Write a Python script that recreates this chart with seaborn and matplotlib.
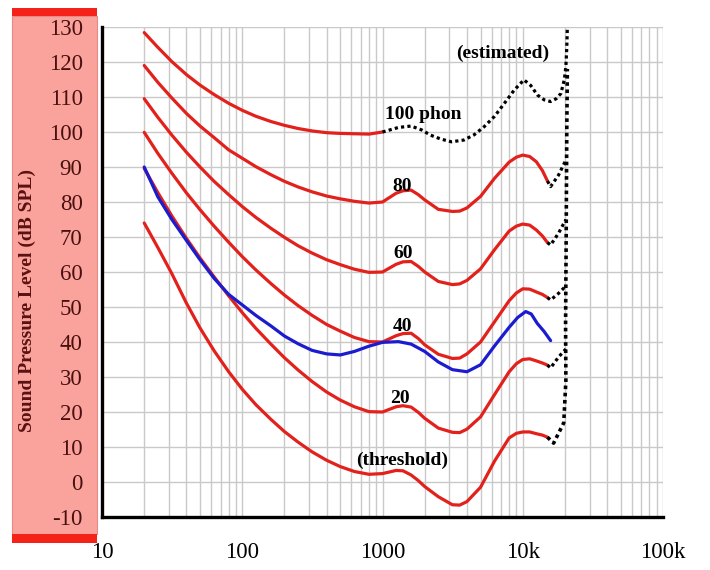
import matplotlib
matplotlib.use("Agg")
import matplotlib.pyplot as plt
import seaborn as sns
from matplotlib.patches import Rectangle
from matplotlib.ticker import FixedLocator, NullFormatter

sns.set_style("white")
plt.rcParams['font.family'] = ['Liberation Serif', 'DejaVu Serif']
plt.rcParams['axes.unicode_minus'] = False

# equal-loudness contours (dB SPL)
freqs = [20, 25, 31.5, 40, 50, 63, 80, 100, 125, 160, 200, 250, 315, 400, 500, 630, 800,
         1000, 1250, 1400, 1600, 1800, 2000, 2500, 3150, 3550, 4000, 5000, 6300, 8000,
         9000, 10000, 11200, 12500, 13800, 15000]
threshold = [74.0, 67.0, 59.5, 51.1, 44.0, 37.5, 31.5, 26.5, 22.1, 17.9, 14.4, 11.4, 8.6, 6.2,
             4.4, 3.0, 2.2, 2.4, 3.3, 3.2, 2.0, 0.4, -1.3, -4.2, -6.5, -6.6, -5.6, -1.5, 6.0, 12.6,
             13.9, 14.3, 14.3, 13.8, 13.4, 12.8]
phon20 = [89.6, 82.7, 76.0, 69.6, 64.0, 58.6, 53.2, 48.4, 43.9, 39.4, 35.5, 32.0, 28.7, 25.7,
          23.4, 21.5, 20.1, 20.0, 21.5, 21.8, 21.4, 19.9, 18.2, 15.4, 14.2, 14.1, 15.1, 18.6, 25.0,
          31.5, 33.8, 35.0, 35.2, 34.6, 34.0, 33.4]
phon40 = [99.9, 93.9, 88.2, 82.6, 77.8, 73.1, 68.5, 64.4, 60.6, 56.7, 53.4, 50.4, 47.6, 45.0,
          43.1, 41.3, 40.1, 40.0, 41.8, 42.4, 42.5, 41.0, 39.2, 36.5, 35.3, 35.4, 36.6, 40.0, 45.8,
          51.8, 54.0, 55.2, 55.1, 54.3, 53.6, 52.7]
phon60 = [109.5, 104.2, 99.1, 94.2, 90.0, 85.9, 82.1, 78.7, 75.6, 72.5, 69.9, 67.5, 65.4, 63.5,
          62.1, 60.8, 59.9, 60.0, 62.2, 62.9, 63.0, 61.6, 60.0, 57.3, 56.4, 56.6, 57.6, 60.9, 66.4,
          71.7, 73.1, 73.7, 73.4, 72.0, 70.3, 68.4]
phon80 = [119.0, 114.2, 109.7, 105.3, 101.7, 98.4, 94.9, 92.5, 90.1, 87.8, 85.9, 84.3, 82.9, 81.7,
          80.9, 80.2, 79.7, 80.0, 82.5, 83.2, 83.4, 82.1, 80.6, 77.9, 77.3, 77.4, 78.3, 81.6, 86.8,
          91.4, 92.8, 93.4, 93.0, 91.5, 89.0, 86.0]
freqs100 = freqs[:18]
phon100 = [128.4, 124.2, 120.1, 116.4, 113.4, 110.7, 108.2, 106.2, 104.5, 103.0, 101.9, 101.0,
           100.3, 99.8, 99.6, 99.5, 99.4, 100.0]

# estimated (dotted) parts
est100_f = [1000, 1300, 1600, 1900, 2200, 2600, 3100, 3800, 4500, 5300, 6300, 7400, 8700, 10200,
            11400, 12700, 14200, 15800, 17300, 18700, 19800, 20300, 20600, 20800]
est100 = [100.0, 101.3, 101.7, 100.6, 99.1, 98.0, 97.2, 97.7, 99.2, 101.5, 104.5, 108.2, 112.0,
          114.9, 113.3, 110.6, 109.2, 108.7, 109.5, 111.0, 115.0, 118.7, 124.0, 130.0]
edge_f = [15000, 16600, 19600, 20300, 20200, 20400, 20600, 20800]
edge_db = [12.8, 11.1, 16.9, 29.0, 45.0, 70.0, 100.0, 118.0]
hook_f = [15000, 15800, 18000, 20300]
hook20 = [33.4, 32.6, 35.7, 38.0]
hook40 = [52.7, 52.0, 53.9, 56.0]
hook60 = [68.4, 67.7, 71.1, 75.0]
hook80 = [86.0, 84.4, 87.7, 92.0]

# older 40 phon curve (blue)
blue_f = [20, 25, 31.5, 40, 50, 63, 80, 100, 125, 160, 200, 250, 315, 400, 500, 630, 800,
          1000, 1300, 1600, 2000, 2500, 3150, 4000, 5000, 6300, 8000, 9200, 10500, 11500,
          12700, 14200, 15800]
blue40 = [90.0, 81.5, 75.0, 69.0, 63.5, 58.2, 53.6, 50.6, 47.6, 44.6, 41.7, 39.5, 37.6, 36.6,
          36.3, 37.3, 38.8, 39.9, 40.1, 39.4, 37.3, 34.3, 32.1, 31.5, 33.5, 38.9, 44.2, 47.0,
          48.7, 48.0, 45.3, 43.0, 40.4]

labels = ["100 phon", "80", "60", "40", "20", "(threshold)", "(estimated)"]
label_f = [1960, 1390, 1400, 1400, 1340, 1380, 7170]
label_db = [104.9, 84.4, 65.3, 44.4, 23.9, 6.3, 122.5]

red = '#e3211c'
blue = '#1c1ccf'

fig = plt.figure(figsize=(7.1, 5.7), dpi=100)
ax = fig.add_axes([102 / 710, 53 / 570, 561 / 710, 490 / 570])

# pink side panel with red bars
fig.add_artist(Rectangle((12 / 710, 36 / 570), 85 / 710, 518 / 570, transform=fig.transFigure,
                         facecolor='#f9a39c', edgecolor='#e58a84', lw=0.8, zorder=-2))
fig.add_artist(Rectangle((12 / 710, 27 / 570), 85 / 710, 9 / 570, transform=fig.transFigure,
                         facecolor='#f5221a', edgecolor='none', zorder=-1))
fig.add_artist(Rectangle((12 / 710, 554 / 570), 85 / 710, 8 / 570, transform=fig.transFigure,
                         facecolor='#f5221a', edgecolor='none', zorder=-1))

ax.set_xscale('log')
lw = 2.3
dots = (0, (1, 1))
for ys in [threshold, phon20, phon40, phon60, phon80]:
    sns.lineplot(x=freqs, y=ys, color=red, lw=lw, ax=ax, sort=False, estimator=None)
sns.lineplot(x=freqs100, y=phon100, color=red, lw=lw, ax=ax, sort=False, estimator=None)
sns.lineplot(x=blue_f, y=blue40, color=blue, lw=lw, ax=ax, sort=False, estimator=None)

sns.lineplot(x=est100_f, y=est100, color='black', lw=2.3, linestyle=dots, ax=ax,
             sort=False, estimator=None)
sns.lineplot(x=edge_f, y=edge_db, color='black', lw=2.6, linestyle=dots, ax=ax,
             sort=False, estimator=None)
for hk in [hook20, hook40, hook60, hook80]:
    sns.lineplot(x=hook_f, y=hk, color='black', lw=2.3, linestyle=dots, ax=ax,
                 sort=False, estimator=None)

for txt, fx, dy in zip(labels, label_f, label_db):
    ax.text(fx, dy, txt, ha='center', va='center', fontsize=14, fontweight='bold', color='black')

ax.set_xlim(10, 100000)
ax.set_ylim(-10, 130)
ax.xaxis.set_major_locator(FixedLocator([10, 100, 1000, 10000, 100000]))
ax.set_xticklabels(['10', '100', '1000', '10k', '100k'])
minors = [m * 10 ** d for d in range(1, 5) for m in range(2, 10)]
ax.xaxis.set_minor_locator(FixedLocator(minors))
ax.xaxis.set_minor_formatter(NullFormatter())
ax.set_yticks(list(range(-10, 131, 10)))

ax.grid(True, which='both', axis='both', color='#c9c9c9', lw=1.0)
ax.set_axisbelow(True)
ax.tick_params(axis='both', which='both', length=0)
ax.tick_params(axis='x', pad=18, labelsize=16.5, labelcolor='black')
ax.tick_params(axis='y', pad=14, labelsize=16.5, labelcolor='#4a1010')

for s in ['top', 'right']:
    ax.spines[s].set_visible(False)
for s in ['left', 'bottom']:
    ax.spines[s].set_color('black')
    ax.spines[s].set_linewidth(2.4)

ax.set_ylabel('Sound Pressure Level (dB SPL)', fontsize=14, fontweight='bold', color='#5b1111')
ax.yaxis.set_label_coords(-0.117, 0.441)
ax.set_xlabel('')

fig.savefig('out.png', dpi=100)
